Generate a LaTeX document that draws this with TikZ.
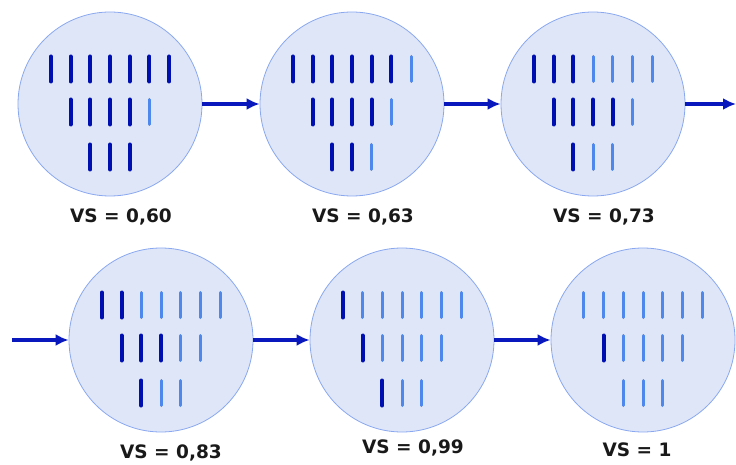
\documentclass[tikz,border=0pt]{standalone}
\usepackage{fontspec}
\setmainfont{DejaVu Sans}
\usepackage{xcolor}
\usepackage{tikz}
\usetikzlibrary{arrows.meta,calc}

\definecolor{discfill}{HTML}{DEE6F8}
\definecolor{discline}{HTML}{8AA8F0}
\definecolor{darkbar}{HTML}{0010B0}
\definecolor{lightbar}{HTML}{4F88EC}
\definecolor{flow}{HTML}{0818BC}

\tikzset{
  stage/.style={circle,draw=discline,line width=0.8pt,fill=discfill,minimum size=184pt,inner sep=0pt},
  vslabel/.style={font=\bfseries\fontsize{18.5}{20}\selectfont,text=black!90},
  dk/.style={draw=darkbar,line width=4pt,line cap=round},
  lt/.style={draw=lightbar,line width=3pt,line cap=round},
  flowarrow/.style={draw=flow,line width=3.5pt,-{Latex[length=13pt,width=12pt]}}
}

% one row of bars: centre node, first offset, top edge, list of styles
\newcommand{\barrow}[4]{%
  \foreach \s [count=\k from #2] in {#4}
    \draw[\s] ($(#1)+(\k*19.7,#3+1.5)$) -- ++(0,25);
}

\begin{document}
\begin{tikzpicture}[x=1pt,y=-1pt,>=Latex]
\useasboundingbox (0,0) rectangle (736,465);
% upper row of stages
\node[stage] (s1) at (110,104) {};
\node[stage] (s2) at (352,104) {};
\node[stage] (s3) at (593,104) {};
% lower row of stages
\node[stage] (s4) at (161,340) {};
\node[stage] (s5) at (402,340) {};
\node[stage] (s6) at (643,340) {};
% bars, stage 1
\barrow{s1}{-3}{-49}{dk,dk,dk,dk,dk,dk,dk}
\barrow{s1}{-2}{-6}{dk,dk,dk,dk,lt}
\barrow{s1}{-1}{39}{dk,dk,dk}
% bars, stage 2
\barrow{s2}{-3}{-49}{dk,dk,dk,dk,dk,dk,lt}
\barrow{s2}{-2}{-6}{dk,dk,dk,dk,lt}
\barrow{s2}{-1}{39}{dk,dk,lt}
% bars, stage 3
\barrow{s3}{-3}{-49}{dk,dk,dk,lt,lt,lt,lt}
\barrow{s3}{-2}{-6}{dk,dk,dk,dk,lt}
\barrow{s3}{-1}{39}{dk,lt,lt}
% bars, stage 4
\barrow{s4}{-3}{-49}{dk,dk,lt,lt,lt,lt,lt}
\barrow{s4}{-2}{-6}{dk,dk,dk,lt,lt}
\barrow{s4}{-1}{39}{dk,lt,lt}
% bars, stage 5
\barrow{s5}{-3}{-49}{dk,lt,lt,lt,lt,lt,lt}
\barrow{s5}{-2}{-6}{dk,lt,lt,lt,lt}
\barrow{s5}{-1}{39}{dk,lt,lt}
% bars, stage 6
\barrow{s6}{-3}{-49}{lt,lt,lt,lt,lt,lt,lt}
\barrow{s6}{-2}{-6}{dk,lt,lt,lt,lt}
\barrow{s6}{-1}{39}{lt,lt,lt}
% labels
\node[vslabel] (v1) at (121,217) {VS = 0,60};
\node[vslabel] (v2) at (363,217) {VS = 0,63};
\node[vslabel] (v3) at (604,217) {VS = 0,73};
\node[vslabel] (v4) at (171,453) {VS = 0,83};
\node[vslabel] (v5) at (413,448) {VS = 0,99};
\node[vslabel] (v6) at (637,450) {VS = 1};
% arrows between stages
\coordinate (out) at (736,104);
\coordinate (in) at (12,340);
\draw[flowarrow] (s1.east) -- (s2.west);
\draw[flowarrow] (s2.east) -- (s3.west);
\draw[flowarrow] (s3.east) -- (out);
\draw[flowarrow] (in) -- (s4.west);
\draw[flowarrow] (s4.east) -- (s5.west);
\draw[flowarrow] (s5.east) -- (s6.west);
\end{tikzpicture}
\end{document}
